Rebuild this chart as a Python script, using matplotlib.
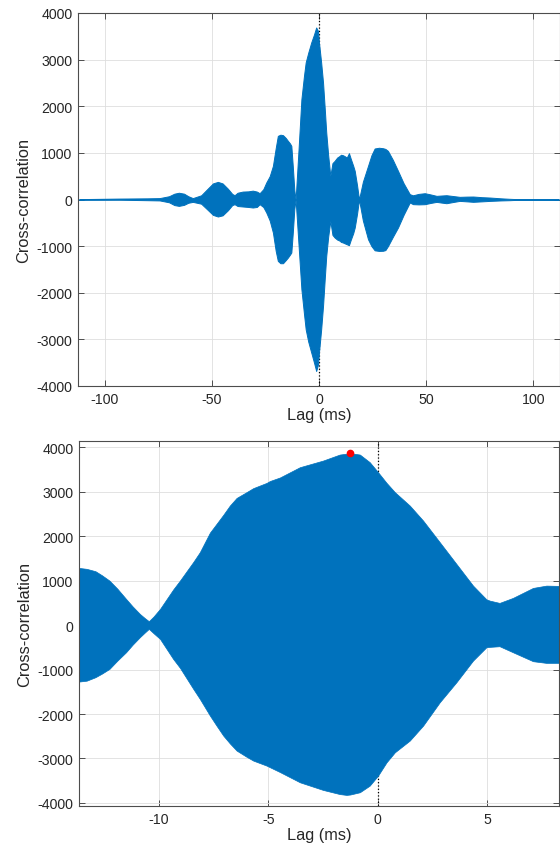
import matplotlib
matplotlib.use("Agg")
import matplotlib.pyplot as plt

# ---- Top panel: envelope of the full cross-correlation (lag in ms) ----
top_lag = [-112, -93, -80, -74.4, -70, -67.5, -65.4, -63, -61, -58.9,
           -55, -52, -49.5, -47.2, -45, -42.5, -40.5, -39.4, -38, -35.6,
           -33, -30.9, -29, -27.7, -26, -24.6, -23, -21.5, -20.2, -19.2,
           -18, -16.8, -15.5, -14.5, -13.5, -12.9, -12.2, -11.5, -10.9, -9.5,
           -8.2, -7, -6.2, -5, -3.6, -2.3, -1.3, -0.5, 0, 1,
           1.9, 2.7, 3.4, 4.3, 5.3, 6.3, 7.3, 8.5, 9.5, 10.3,
           11.2, 12, 13, 14, 14.8, 16, 16.7, 17.8, 18.7, 20.5,
           22.9, 24.5, 26, 28, 29.9, 31, 32.2, 34.5, 36.9, 39.5,
           42.4, 43.9, 46.5, 49.4, 52, 54.9, 57, 59.5, 62.5, 65.7,
           69, 72, 76, 79.8, 85, 89, 93.8, 112]
top_upper = [8, 20, 25, 30, 70, 125, 145, 125, 70, 30,
             90, 230, 345, 378, 345, 230, 120, 92, 145, 170,
             175, 190, 170, 135, 220, 365, 500, 721, 1100, 1365,
             1390, 1380, 1320, 1258, 1200, 1150, 700, 200, 0, 1100,
             2152, 2650, 2940, 3150, 3370, 3540, 3690, 3620, 3370, 2950,
             2510, 1950, 1438, 950, 506, 780, 828, 900, 930, 960,
             950, 930, 900, 994, 880, 720, 614, 300, 0, 380,
             721, 950, 1094, 1110, 1100, 1085, 1043, 850, 614, 350,
             114, 90, 120, 135, 110, 78, 85, 92, 75, 57,
             62, 64, 50, 42, 25, 15, 5, 5]
top_lower = [-8, -5, -15, -20, -60, -120, -137, -115, -70, -51,
             -90, -220, -330, -365, -340, -230, -120, -101, -140, -150,
             -160, -172, -160, -101, -160, -279, -450, -708, -1100, -1317,
             -1367, -1367, -1300, -1245, -1180, -1137, -700, -200, 0, -1000,
             -1925, -2450, -2783, -3050, -3283, -3500, -3678, -3550, -3283, -2800,
             -2283, -1700, -1210, -800, -459, -760, -815, -860, -880, -910,
             -923, -940, -960, -980, -870, -720, -601, -300, 0, -450,
             -852, -1000, -1090, -1103, -1100, -1085, -1000, -800, -600, -330,
             -64, -100, -105, -101, -75, -51, -65, -80, -55, -30,
             -40, -50, -40, -30, -20, -15, -5, -5]

# ---- Bottom panel: zoom around the peak ----
bot_lag = [-13.65, -13.3, -12.9, -12.6, -12.26, -11.9, -11.5, -11.2, -10.87, -10.65,
           -10.46, -10.25, -9.95, -9.35, -9.04, -8.43, -8.13, -7.67, -7.37, -7.06,
           -6.76, -6.45, -6.0, -5.69, -5.08, -4.93, -4.47, -3.56, -2.5, -1.74,
           -1.43, -1.26, -0.82, -0.37, 0.01, 0.4, 0.78, 1.46, 2.07, 2.83,
           3.59, 4.35, 4.96, 5.11, 5.56, 6.17, 7.09, 7.7, 8.3]
bot_upper = [1286, 1265, 1212, 1120, 1001, 820, 589, 420, 252, 160,
             88, 190, 364, 800, 1001, 1420, 1640, 2080, 2276, 2480,
             2688, 2860, 2989, 3080, 3198, 3240, 3320, 3551, 3700, 3835,
             3855, 3866, 3835, 3664, 3439, 3198, 2989, 2688, 2350, 1864,
             1376, 888, 580, 551, 499, 611, 836, 888, 881]
bot_lower = [-1270, -1250, -1172, -1090, -985, -800, -610, -440, -272, -170,
             -85, -180, -310, -760, -960, -1435, -1660, -2035, -2260, -2485,
             -2660, -2822, -2960, -3047, -3160, -3196, -3305, -3535, -3707, -3800,
             -3819, -3810, -3759, -3610, -3385, -3085, -2860, -2597, -2260, -1735,
             -1285, -798, -498, -490, -475, -610, -812, -850, -850]

peak_lag = [-1.26]
peak_val = [3866]

top_xticks = [-100, -50, 0, 50, 100]
top_yticks = [-4000, -3000, -2000, -1000, 0, 1000, 2000, 3000, 4000]
bot_xticks = [-10, -5, 0, 5]
bot_yticks = [-4000, -3000, -2000, -1000, 0, 1000, 2000, 3000, 4000]

BLUE = "#0072BD"
TXT = "#262626"
plt.rcParams['font.family'] = ['Liberation Sans', 'DejaVu Sans']
plt.rcParams['axes.unicode_minus'] = False

fig = plt.figure(figsize=(5.6, 8.54), dpi=100)
ax1 = fig.add_axes([78/560, 1-387/854, (559.5-78)/560, (387-14)/854])
ax2 = fig.add_axes([79/560, 1-807.3/854, (559.5-79)/560, (807.3-442)/854])

def style(ax, xt, yt):
    ax.set_xticks(xt)
    ax.set_yticks(yt)
    ax.grid(True, color="#dedede", linewidth=0.6, zorder=0)
    ax.set_axisbelow(True)
    for s in ax.spines.values():
        s.set_color("#4d4d4d")
        s.set_linewidth(0.8)
    ax.tick_params(direction="in", length=4, width=0.7, color="#4d4d4d",
                   top=True, right=True, labelsize=10.2, labelcolor=TXT, pad=4)
    ax.set_xlabel("Lag (ms)", fontsize=11.8, color=TXT, labelpad=1)
    ax.set_ylabel("Cross-correlation", fontsize=11.8, color=TXT, labelpad=4)

# top
ax1.axvline(0, color="black", linestyle=":", linewidth=0.9, zorder=1)
ax1.fill_between(top_lag, top_lower, top_upper, facecolor=BLUE,
                 edgecolor=BLUE, linewidth=0.7, zorder=2)
ax1.set_xlim(-112.5, 112.3)
ax1.set_ylim(-4000, 4000)
style(ax1, top_xticks, top_yticks)

# bottom
ax2.axvline(0, color="black", linestyle=":", linewidth=0.9, zorder=1)
ax2.fill_between(bot_lag, bot_lower, bot_upper, facecolor=BLUE,
                 edgecolor=BLUE, linewidth=0.5, zorder=2)
ax2.plot(peak_lag, peak_val, "o", color="red", markersize=4.5, zorder=3)
ax2.set_xlim(-13.65, 8.3)
ax2.set_ylim(-4075, 4140)
style(ax2, bot_xticks, bot_yticks)

fig.savefig("out.png", dpi=100)
